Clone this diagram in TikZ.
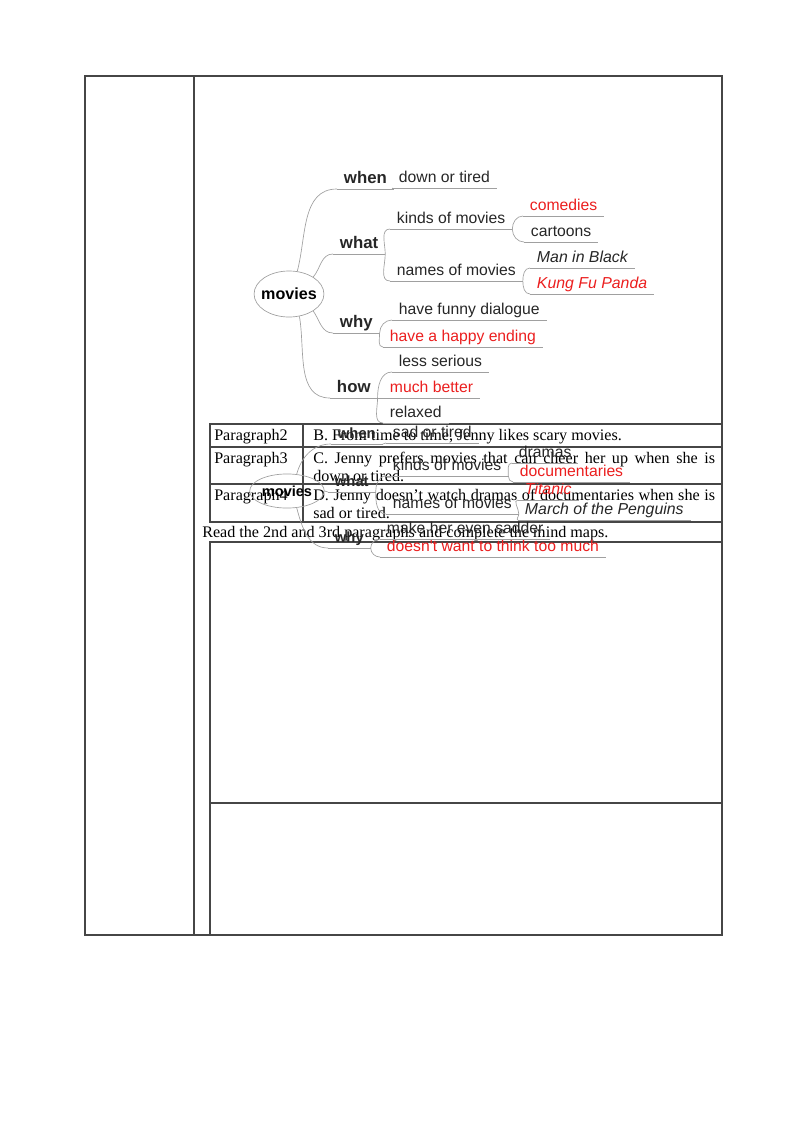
\documentclass[tikz,border=0pt]{standalone}
\usepackage{fontspec}
\setmainfont{Liberation Serif}
\newfontfamily\mapfont{Liberation Sans}
\usetikzlibrary{shapes.geometric}
\definecolor{mapred}{RGB}{235,30,30}
\definecolor{twiggray}{RGB}{160,160,160}
\definecolor{rulegray}{RGB}{70,70,70}
\tikzset{rule/.style={draw=rulegray, line width=0.8pt},
  twig/.style={draw=twiggray, line width=0.5pt},
  topic/.style={anchor=south west, inner xsep=5pt, inner ysep=1.5pt,
    text height=0.72em, text depth=0.22em,
    font=\mapfont\fontsize{11.7}{13}\selectfont, text=black!85},
  film/.style={topic, font=\mapfont\itshape\fontsize{11.8}{13}\selectfont},
  key/.style={topic, font=\mapfont\bfseries\fontsize{12.5}{14}\selectfont},
  keytwo/.style={topic, font=\mapfont\bfseries\fontsize{11}{13}\selectfont},
  hot/.style={text=mapred},
  hub/.style={ellipse, draw=twiggray, line width=0.5pt},
  para/.style={anchor=base west, inner sep=0pt, font=\fontsize{12}{13.8}\selectfont}}

\begin{document}
\begin{tikzpicture}[x=0.7441pt, y=0.7441pt]
      \useasboundingbox (0,0) rectangle (800,-1132);

      % frame and table
      \draw [rule] (85,-76) rectangle (722,-935);
      \draw [rule] (194,-76) -- (194,-935);
      \draw [rule] (210,-424) rectangle (722,-522);
      \foreach \y in {447,484}
        \draw [rule] (210,-\y) -- (722,-\y);
      \draw [rule] (303,-424) -- (303,-522);
      \draw [rule] (210,-542) rectangle (722,-935);
      \draw [rule] (210,-803) -- (722,-803);

      \node [para] (p2) at (214,-440) {Paragraph2};
      \node [para] (s2) at (313,-440) {B. From time to time, Jenny likes scary movies.};
      \node [para] (p3) at (214,-463) {Paragraph3};
      \node [para, text width=299pt, align=justify] (s3) at (313,-463)
        {C. Jenny prefers movies that can cheer her up when she is\linebreak down or tired.};
      \node [para] (p4) at (214,-500) {Paragraph4};
      \node [para, text width=299pt, align=justify] (s4) at (313,-500)
        {D. Jenny doesn’t watch dramas of documentaries when she is\linebreak sad or tired.};
      \node [para] (task) at (202,-537) {Read the 2nd and 3rd paragraphs and complete the mind maps.};

      % first map
      \node [hub, inner xsep=-2.3pt, inner ysep=7.7pt,
        font=\mapfont\bfseries\fontsize{12}{14}\selectfont] (m1) at (289,-294) {movies};
      \node [key] (when1) at (337,-189) {when};
      \node [topic] (down1) at (392,-188) {down or tired};
      \node [key] (what1) at (333,-254) {what};
      \node [topic] (kinds1) at (390,-229) {kinds of movies};
      \node [topic, hot] (comedies1) at (523,-216) {comedies};
      \node [topic] (cartoons1) at (524,-242) {cartoons};
      \node [topic] (names1) at (390,-281) {names of movies};
      \node [film] (mib1) at (530,-268) {Man in Black};
      \node [film, hot] (kfp1) at (530,-294) {Kung Fu Panda};
      \node [key] (why1) at (333,-333) {why};
      \node [topic] (funny1) at (392,-320) {have funny dialogue};
      \node [topic, hot] (happy1) at (383,-347) {have a happy ending};
      \node [key] (how1) at (330,-398) {how};
      \node [topic] (less1) at (392,-372) {less serious};
      \node [topic, hot] (better1) at (383,-398) {much better};
      \node [topic] (relaxed1) at (383,-423) {relaxed};

      \draw [twig] (m1.70) to[out=75, in=180] (when1.south west);
      \draw [twig] (m1.35) to[out=50, in=180] (what1.south west);
      \draw [twig] (m1.-35) to[out=-55, in=180] (why1.south west);
      \draw [twig] (m1.-65) to[out=-80, in=180] (how1.south west);
      \draw [twig] (when1.south east) -- (down1.south west);
      \draw [twig] (what1.south east) to[out=90, in=180] (kinds1.south west);
      \draw [twig] (what1.south east) to[out=-90, in=180] (names1.south west);
      \draw [twig] (kinds1.south east) to[out=90, in=180] (comedies1.south west);
      \draw [twig] (kinds1.south east) to[out=-90, in=180] (cartoons1.south west);
      \draw [twig] (names1.south east) to[out=90, in=180] (mib1.south west);
      \draw [twig] (names1.south east) to[out=-90, in=180] (kfp1.south west);
      \draw [twig] (why1.south east) to[out=90, in=180] (funny1.south west);
      \draw [twig] (why1.south east) to[out=-90, in=180] (happy1.south west);
      \draw [twig] (how1.south east) to[out=90, in=180] (less1.south west);
      \draw [twig] (how1.south east) -- (better1.south west);
      \draw [twig] (how1.south east) to[out=-90, in=180] (relaxed1.south west);

      % second map, over the table
      \node [hub, inner xsep=1pt, inner ysep=5pt,
        font=\mapfont\bfseries\fontsize{10.8}{12}\selectfont] (m2) at (287,-491) {movies};
      \node [keytwo] (when2) at (331,-444) {when};
      \node [topic] (sad2) at (386,-443) {sad or tired};
      \node [keytwo] (what2) at (328,-492) {what};
      \node [topic] (kinds2) at (386,-476) {kinds of movies};
      \node [topic] (dramas2) at (512,-463) {dramas};
      \node [topic, hot] (docs2) at (513,-482) {documentaries};
      \node [topic] (names2) at (386,-514) {names of movies};
      \node [film, hot] (titanic2) at (518,-500) {Titanic};
      \node [film] (march2) at (518,-520) {March of the Penguins};
      \node [keytwo] (why2) at (328,-548) {why};
      \node [topic] (sadder2) at (380,-539) {make her even sadder};
      \node [topic, hot] (think2) at (380,-557) {doesn't want to think too much};

      \draw [twig] (m2.60) to[out=75, in=180] (when2.south west);
      \draw [twig] (m2.east) to[out=10, in=180] (what2.south west);
      \draw [twig] (m2.-60) to[out=-75, in=180] (why2.south west);
      \draw [twig] (when2.south east) -- (sad2.south west);
      \draw [twig] (what2.south east) to[out=90, in=180] (kinds2.south west);
      \draw [twig] (what2.south east) to[out=-90, in=180] (names2.south west);
      \draw [twig] (kinds2.south east) to[out=90, in=180] (dramas2.south west);
      \draw [twig] (kinds2.south east) to[out=-90, in=180] (docs2.south west);
      \draw [twig] (names2.south east) to[out=90, in=180] (titanic2.south west);
      \draw [twig] (names2.south east) to[out=-90, in=180] (march2.south west);
      \draw [twig] (why2.south east) to[out=90, in=180] (sadder2.south west);
      \draw [twig] (why2.south east) to[out=-90, in=180] (think2.south west);

      % underlines
      \foreach \n in {when1,down1,what1,kinds1,comedies1,cartoons1,names1,mib1,kfp1,
          why1,funny1,happy1,how1,less1,better1,relaxed1,when2,sad2,what2,kinds2,
          dramas2,docs2,names2,titanic2,march2,why2,sadder2,think2}
        \draw [twig] (\n.south west) -- (\n.south east);
    \end{tikzpicture}
\end{document}
